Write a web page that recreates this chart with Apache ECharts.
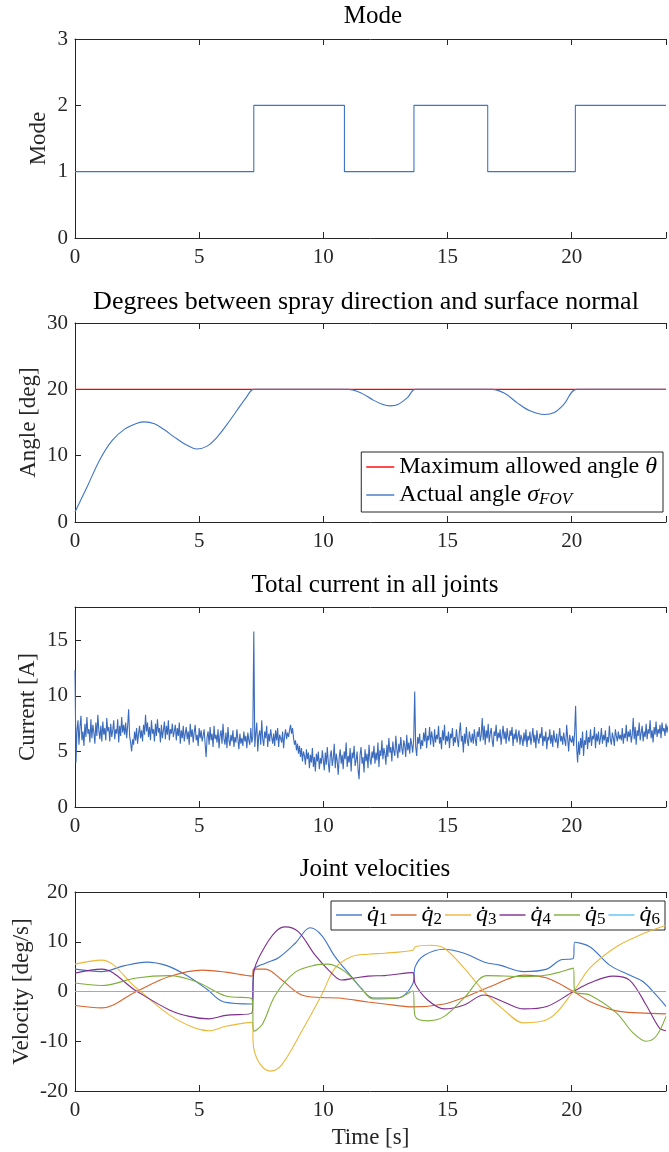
<!DOCTYPE html>
<html>
<head>
<meta charset="utf-8">
<script src="https://cdn.jsdelivr.net/npm/echarts@6/dist/echarts.min.js"></script>
<style>
  html, body { margin: 0; padding: 0; background: #fff; }
  #chart { width: 669px; height: 1152px; }
</style>
</head>
<body>
<div id="chart"></div>
<script>
// time axis (the figure is cropped on the right)
const xMax = 23.8
const xInterval = 5

// mode (step signal)
const modeTimes = [0, 7.2, 10.85, 13.65, 16.62, 20.15, 23.8]
const modeValues = [1, 2, 1, 2, 1, 2, 2]

// angle between spray direction and surface normal
const maxAngle = 20
const angleTimes = [0, 0.5, 1.0, 1.5, 2.0, 2.5, 2.8, 3.2, 3.6, 4.0, 4.5, 4.9, 5.3, 5.7, 6.1, 6.5, 6.9, 7.2,
  11.0, 11.5, 12.0, 12.4, 12.7, 13.0, 13.4, 13.7, 16.8, 17.3, 17.8, 18.3, 18.9, 19.3, 19.7, 20.2, 23.8]
const angleValues = [1.5, 5.4, 9.4, 12.3, 14.0, 14.9, 15.1, 14.8, 13.9, 12.8, 11.6, 11.0, 11.4, 12.7, 14.6, 16.7, 18.8, 20.0,
  20.0, 19.5, 18.4, 17.7, 17.5, 17.7, 18.8, 20.0, 20.0, 19.4, 18.0, 16.8, 16.2, 16.5, 17.8, 20.0, 20.0]

// total current, one sample every 0.04 s (one row = 2 s)
const currentStep = 0.04
const currentValues = [
  12.3, 4.0, 6.9, 7.8, 5.6, 7.2, 8.2, 6.0, 6.8, 5.5, 7.5, 6.3, 8.1, 6.6, 7.0, 5.8, 7.9, 6.2, 7.4, 6.7, 5.7, 7.6, 6.4, 8.3, 6.9, 6.1, 7.3, 5.9, 7.7, 6.5, 7.1, 6.0, 8.0, 6.8, 7.2, 5.9, 7.5, 6.3, 6.9, 7.8, 6.1, 7.0, 6.6, 7.9, 5.8, 7.3, 6.4, 8.1, 6.7, 7.4,
  6.5, 7.6, 6.2, 7.3, 8.8, 6.4, 5.8, 5.0, 6.1, 5.6, 6.8, 6.0, 7.1, 5.7, 6.6, 7.3, 6.2, 6.9, 5.9, 7.4, 6.5, 8.3, 6.8, 7.6, 6.3, 7.2, 6.0, 7.8, 6.6, 7.0, 5.9, 7.5, 6.4, 7.9, 6.7, 7.1, 5.8, 7.4, 6.2, 6.9, 7.7, 6.1, 7.3, 6.5, 7.8, 6.0, 7.0, 6.6, 7.5, 6.3,
  6.8, 7.4, 6.0, 7.1, 6.4, 7.6, 5.7, 6.9, 6.2, 7.3, 5.9, 6.6, 7.2, 6.1, 6.8, 5.6, 7.5, 6.3, 7.0, 5.8, 6.7, 7.4, 6.0, 6.5, 5.5, 7.1, 6.2, 6.9, 5.9, 6.4, 7.0, 5.7, 4.5, 6.3, 6.8, 5.6, 7.2, 6.0, 6.6, 5.4, 7.3, 6.1, 6.5, 5.8, 7.0, 5.3, 6.4, 6.9, 5.7, 7.5,
  6.1, 5.6, 6.7, 5.3, 7.2, 6.0, 5.5, 6.5, 5.9, 6.9, 5.4, 6.3, 5.8, 7.0, 6.1, 5.2, 6.6, 5.7, 6.2, 5.5, 6.8, 5.9, 6.4, 5.3, 6.7, 6.0, 5.6, 7.1, 5.8, 6.3, 15.8, 5.4, 6.6, 7.6, 5.0, 6.4, 6.9, 5.6, 7.8, 6.1, 5.5, 6.8, 6.2, 7.3, 5.4, 6.6, 5.9, 7.0, 6.3, 5.7,
  6.6, 5.5, 6.9, 6.0, 7.1, 5.4, 6.5, 6.2, 5.8, 6.8, 5.3, 6.4, 7.0, 6.1, 6.7, 6.3, 6.9, 7.4, 6.6, 7.1, 6.2, 5.6, 6.0, 5.1, 5.7, 4.8, 5.5, 4.5, 5.3, 4.1, 5.0, 4.6, 3.8, 5.2, 4.3, 4.9, 3.5, 4.7, 4.0, 5.3, 3.6, 4.5, 3.2, 4.8, 4.1, 5.0, 3.4, 4.4, 3.9, 5.1,
  4.2, 3.3, 4.9, 3.8, 5.4, 4.0, 3.1, 4.6, 5.1, 3.7, 4.4, 5.7, 3.5, 4.8, 4.1, 2.9, 4.5, 5.2, 3.9, 4.7, 3.4, 5.0, 4.3, 5.8, 3.6, 4.6, 4.0, 5.3, 3.2, 4.9, 4.4, 5.5, 3.7, 4.2, 5.0, 3.3, 2.5, 4.7, 5.4, 3.9, 4.5, 3.1, 5.2, 4.1, 4.8, 3.5, 5.6, 4.3, 3.8, 5.0,
  4.4, 5.5, 3.9, 4.9, 4.2, 5.8, 3.6, 5.1, 4.6, 6.0, 4.3, 5.3, 4.8, 3.8, 5.6, 4.5, 6.2, 4.9, 5.4, 4.1, 5.9, 5.0, 4.6, 6.4, 5.2, 4.4, 5.7, 4.9, 6.3, 5.3, 4.7, 6.0, 5.5, 4.5, 6.5, 5.1, 5.8, 4.8, 6.2, 5.6, 4.9, 6.1, 10.4, 5.4, 4.6, 6.3, 5.7, 6.6, 5.2, 6.0,
  5.5, 6.7, 5.9, 7.1, 5.3, 6.4, 6.0, 7.2, 5.6, 6.8, 6.2, 5.4, 7.0, 5.8, 6.5, 6.1, 7.3, 5.7, 6.3, 5.2, 6.9, 6.0, 7.4, 5.6, 6.4, 5.9, 6.8, 5.3, 6.6, 6.2, 7.1, 5.5, 6.3, 5.8, 7.0, 6.1, 5.4, 6.7, 7.6, 5.9, 6.4, 4.9, 6.6, 5.7, 7.2, 6.0, 5.5, 6.8, 6.2, 5.8,
  6.6, 5.7, 7.0, 6.1, 5.5, 6.8, 6.3, 7.2, 5.9, 6.5, 8.0, 6.0, 7.3, 5.6, 6.9, 6.2, 7.5, 5.8, 6.6, 7.1, 6.0, 5.4, 6.8, 6.4, 7.4, 5.9, 6.7, 6.2, 7.0, 5.6, 6.5, 7.3, 6.1, 6.8, 5.7, 7.1, 6.3, 5.9, 6.9, 6.4, 7.2, 5.5, 6.6, 6.1, 7.0, 5.8, 6.4, 6.9, 5.6, 6.5,
  6.1, 5.5, 6.7, 5.9, 7.0, 5.4, 6.4, 6.0, 6.8, 5.6, 6.3, 7.1, 5.8, 6.5, 5.3, 6.9, 6.1, 5.7, 6.6, 6.2, 7.2, 5.5, 6.4, 5.9, 6.8, 5.2, 6.3, 6.0, 7.0, 5.7, 6.5, 5.4, 6.9, 6.1, 5.8, 6.6, 5.3, 6.2, 7.1, 5.9, 6.4, 5.6, 6.7, 6.0, 5.5, 7.4, 6.2, 5.0, 6.5, 6.0,
  5.8, 6.4, 5.5, 6.6, 9.1, 5.4, 4.0, 5.9, 4.7, 6.2, 5.3, 6.8, 4.6, 6.0, 5.6, 6.9, 5.2, 6.3, 5.8, 7.0, 5.5, 6.4, 6.1, 7.2, 5.3, 6.6, 5.9, 6.8, 5.6, 6.2, 7.1, 5.7, 6.5, 6.0, 6.9, 5.4, 6.3, 5.8, 7.3, 6.1, 5.6, 6.7, 6.2, 5.5, 7.0, 6.4, 5.9, 6.8, 6.1, 6.5,
  6.0, 7.1, 5.7, 6.6, 6.2, 7.4, 5.9, 6.8, 6.3, 7.0, 5.8, 6.5, 8.0, 6.1, 7.2, 5.6, 6.9, 6.4, 7.6, 6.0, 6.7, 7.3, 5.9, 6.8, 6.3, 7.5, 6.1, 7.0, 6.6, 7.8, 6.2, 6.9, 5.8, 7.2, 6.5, 7.7, 6.3, 7.0, 6.6, 7.4, 6.2, 7.6, 6.8, 7.1, 6.4, 7.5, 6.7, 7.3, 6.9, 7.2
]

// joint velocities [time, deg/s]
const q1 = [[0, 4.5], [1.07, 4.0], [2.0, 5.2], [2.87, 5.9], [3.7, 5.2], [4.47, 3.3], [5.3, 0.5], [6.0, -2.1], [7.13, -2.5],
  [7.2, 4.3], [7.67, 5.7], [8.2, 6.8], [8.87, 9.7], [9.47, 12.8], [9.93, 11.3], [10.47, 7.0], [11.13, 3.0], [11.5, 0.8],
  [12.0, -1.3], [13.0, -1.3], [13.6, 1.5], [13.7, 5.0], [14.07, 7.3], [14.87, 8.5], [15.67, 7.7], [16.5, 5.9], [17.1, 5.3],
  [18.07, 4.0], [19.0, 4.5], [19.53, 6.3], [20.07, 6.7], [20.12, 9.9], [20.73, 9.0], [21.53, 5.3], [22.33, 3.3],
  [22.87, 2.0], [23.4, -0.7], [23.8, -3.0]]
const q2 = [[0, -2.8], [1.07, -3.3], [2.47, 0], [3.8, 3.0], [5.13, 4.3], [6.07, 3.9], [7.13, 3.1], [7.2, 4.5], [7.67, 4.5],
  [8.33, 2.3], [9.13, -0.7], [9.93, -1.2], [10.6, -1.3], [11.8, -2.1], [12.47, -2.5], [13.6, -3.1], [14.87, -2.5],
  [15.67, -1.2], [16.73, 1.0], [18.07, 3.3], [19.0, 2.7], [20.07, 0], [20.73, -2.0], [21.8, -3.9], [22.73, -4.3], [23.8, -4.5]]
const q3 = [[0, 5.5], [1.07, 6.3], [2.47, 0.7], [3.8, -4.7], [4.8, -7.3], [5.4, -7.9], [6.07, -7.0], [7.13, -6.2],
  [7.2, -11.5], [7.47, -14.7], [7.87, -16.0], [8.33, -14.7], [9.13, -8.0], [9.93, -0.7], [10.47, 4.7], [11.13, 7.0],
  [11.8, 7.5], [12.47, 7.7], [13.6, 8.3], [13.7, 9.0], [14.33, 9.3], [14.87, 8.7], [15.67, 4.7], [16.47, 0], [17.27, -3.7],
  [18.07, -6.3], [19.0, -5.7], [20.07, 0], [20.73, 4.7], [21.8, 9.0], [22.73, 11.3], [23.8, 13.3]]
const q4 = [[0, 3.7], [1.07, 4.5], [2.47, 0.1], [3.8, -3.7], [4.6, -5.0], [5.4, -5.5], [6.07, -4.8], [7.13, -4.3],
  [7.2, 3.9], [7.53, 8.0], [8.07, 12.0], [8.47, 13.0], [9.0, 12.0], [9.67, 7.3], [10.33, 3.7], [10.73, 2.3], [11.27, 2.7],
  [11.8, 3.1], [12.47, 3.2], [13.6, 3.8], [13.7, 1.5], [14.2, -1.7], [14.87, -3.5], [15.67, -2.7], [16.47, -0.7],
  [17.27, -2.1], [18.07, -3.5], [19.0, -3.0], [20.07, 0], [20.73, 1.7], [21.67, 3.1], [22.33, 2.3], [23.0, -2.7],
  [23.53, -7.3], [23.8, -7.9]]
const q5 = [[0, 1.7], [1.07, 1.2], [2.47, 2.7], [3.8, 3.2], [4.87, 2.0], [6.07, -0.9], [7.13, -1.5], [7.2, -8.0],
  [7.53, -6.7], [8.07, -0.7], [8.87, 3.9], [9.67, 5.3], [10.2, 5.5], [10.87, 4.0], [11.5, 0.8], [12.0, -1.5], [13.0, -1.3],
  [13.6, 0.1], [13.7, -5.0], [14.2, -5.9], [14.87, -5.0], [15.67, -1.3], [16.6, 3.2], [18.07, 3.0], [19.0, 3.3],
  [20.07, 4.7], [20.12, 0], [20.73, -0.7], [21.8, -4.3], [22.47, -8.3], [23.0, -10.0], [23.4, -9.0], [23.8, -5.0]]
const q6 = [[0, 0], [23.8, 0]]

const jointColors = ['#3f74c8', '#d9632c', '#edb83a', '#7e2f8e', '#7fae3a', '#5ec2f0']

const FONT = 'Liberation Serif'
const AXIS = '#262626'
const gridTops = [39, 323, 607, 892]
const gridHeights = [199, 199, 200, 199]

function bottomAxis(gi, name) {
  return {
    type: 'value', gridIndex: gi, position: 'bottom', min: 0, max: xMax, interval: xInterval,
    axisLine: { show: true, onZero: false, lineStyle: { color: AXIS, width: 1 } },
    axisTick: { show: true, inside: true, length: 6, lineStyle: { color: AXIS } },
    axisLabel: {
      margin: 9, fontFamily: FONT, fontSize: 21, color: AXIS,
      formatter: v => (v % xInterval === 0 ? String(v) : '')
    },
    splitLine: { show: false },
    name: name || '', nameLocation: 'middle', nameGap: 35, nameMoveOverlap: false,
    nameTextStyle: { fontFamily: FONT, fontSize: 23, color: AXIS }
  }
}

function topAxis(gi) {
  return {
    type: 'value', gridIndex: gi, position: 'top', min: 0, max: xMax, interval: xInterval,
    axisLine: { show: true, onZero: false, lineStyle: { color: AXIS, width: 1 } },
    axisTick: { show: true, inside: true, length: 6, lineStyle: { color: AXIS } },
    axisLabel: { show: false },
    splitLine: { show: false }
  }
}

function leftAxis(gi, min, max, interval, name, gap) {
  return {
    type: 'value', gridIndex: gi, min: min, max: max, interval: interval,
    axisLine: { show: true, onZero: false, lineStyle: { color: AXIS, width: 1 } },
    axisTick: { show: true, inside: true, length: 6, lineStyle: { color: AXIS } },
    axisLabel: {
      margin: 7, fontFamily: FONT, fontSize: 21, color: AXIS,
      formatter: v => (v % interval === 0 ? String(v) : '')
    },
    splitLine: { show: false },
    name: name, nameLocation: 'middle', nameRotate: 90, nameGap: gap, nameMoveOverlap: false,
    nameTextStyle: { fontFamily: FONT, fontSize: 23, color: AXIS }
  }
}

const titleText = { fontFamily: FONT, fontSize: 25, fontWeight: 'normal', color: '#000' }

const chart = echarts.init(document.getElementById('chart'), null, { renderer: 'canvas' })

const jointSeries = [q1, q2, q3, q4, q5, q6].map((d, i) => ({
  name: 'q' + (i + 1),
  type: 'line',
  xAxisIndex: 3, yAxisIndex: 3,
  data: d,
  symbol: 'none',
  smooth: 0.35,
  color: jointColors[i],
  lineStyle: { width: 1.1, color: jointColors[i] },
  z: 2 + i
}))

chart.setOption({
  animation: false,
  backgroundColor: '#fff',
  title: [
    { text: 'Mode', left: 373, top: 4, textAlign: 'center', padding: 0, textStyle: titleText },
    { text: 'Degrees between spray direction and surface normal', left: 366, top: 289, textAlign: 'center', padding: 0,
      textStyle: Object.assign({}, titleText, { fontSize: 26 }) },
    { text: 'Total current in all joints', left: 375, top: 573, textAlign: 'center', padding: 0, textStyle: titleText },
    { text: 'Joint velocities', left: 375, top: 857, textAlign: 'center', padding: 0, textStyle: titleText }
  ],
  grid: gridTops.map((t, i) => ({ left: 75, right: 0, top: t, height: gridHeights[i] })),
  xAxis: [
    bottomAxis(0), bottomAxis(1), bottomAxis(2), bottomAxis(3, 'Time [s]'),
    topAxis(0), topAxis(1), topAxis(2), topAxis(3)
  ],
  yAxis: [
    leftAxis(0, 0, 3, 1, 'Mode', 25),
    leftAxis(1, 0, 30, 10, 'Angle [deg]', 35),
    leftAxis(2, 0, 18, 5, 'Current [A]', 36),
    leftAxis(3, -20, 20, 10, 'Velocity [deg/s]', 42)
  ],
  legend: [
    {
      data: ['Maximum allowed angle θ', 'Actual angle σFOV'],
      orient: 'vertical', right: 6, top: 452,
      padding: [3, 6, 4, 5], itemGap: 4, itemWidth: 28, itemHeight: 1.4, icon: 'rect',
      backgroundColor: '#fff', borderColor: AXIS, borderWidth: 1, borderRadius: 0,
      formatter: n => (n.indexOf('Actual') === 0
        ? '{t|Actual angle }{i|σ}{s|FOV}'
        : '{t|Maximum allowed angle }{i|θ}'),
      textStyle: {
        color: '#000',
        rich: {
          t: { fontFamily: FONT, fontSize: 24, lineHeight: 26 },
          i: { fontFamily: FONT, fontSize: 24, fontStyle: 'italic', lineHeight: 26 },
          s: { fontFamily: FONT, fontSize: 17, fontStyle: 'italic', verticalAlign: 'bottom', lineHeight: 14 }
        }
      }
    },
    {
      data: ['q1', 'q2', 'q3', 'q4', 'q5', 'q6'],
      orient: 'horizontal', right: 4, top: 901,
      padding: [2, 5, 2, 5], itemGap: 3, itemWidth: 26, itemHeight: 1.4, icon: 'rect',
      backgroundColor: '#fff', borderColor: AXIS, borderWidth: 1, borderRadius: 0,
      formatter: n => '{q|q\u0307}{s|' + n.slice(1) + '}',
      textStyle: {
        color: '#000',
        rich: {
          q: { fontFamily: FONT, fontSize: 24, fontStyle: 'italic', lineHeight: 26 },
          s: { fontFamily: FONT, fontSize: 17, verticalAlign: 'bottom', lineHeight: 14 }
        }
      }
    }
  ],
  series: [
    {
      name: 'Mode', type: 'line', xAxisIndex: 0, yAxisIndex: 0,
      data: modeTimes.map((t, i) => [t, modeValues[i]]),
      step: 'end', symbol: 'none', lineStyle: { width: 1.1, color: '#3f74c8' }
    },
    {
      name: 'Maximum allowed angle θ', type: 'line', xAxisIndex: 1, yAxisIndex: 1,
      data: [[0, maxAngle], [xMax, maxAngle]],
      symbol: 'none', color: '#ff0000', lineStyle: { width: 1.1, color: '#ff0000' }
    },
    {
      name: 'Actual angle σFOV', type: 'line', xAxisIndex: 1, yAxisIndex: 1,
      data: angleTimes.map((t, i) => [t, angleValues[i]]),
      symbol: 'none', smooth: 0.35,
      color: '#3f74c8', lineStyle: { width: 1.1, color: '#3f74c8' }
    },
    {
      name: 'Current', type: 'line', xAxisIndex: 2, yAxisIndex: 2,
      data: currentValues.map((v, i) => [+(i * currentStep).toFixed(2), v]),
      symbol: 'none', lineStyle: { width: 1.1, color: '#3a6bbd' }
    }
  ].concat(jointSeries)
})
</script>
</body>
</html>
